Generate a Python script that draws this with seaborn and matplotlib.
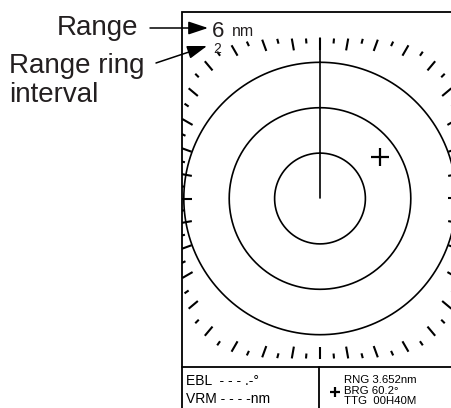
import numpy as np
import pandas as pd
import seaborn as sns
import matplotlib.pyplot as plt

# radar display settings
range_nm = 6
ring_interval = 2
ring_radii = [2, 4, 6]            # nm
tick_step = 5                     # degrees between bearing marks
target_drawn = (3.2, 55)          # (range nm, bearing deg) as seen on screen
readout_left = ["EBL  - - - .-\u00b0", "VRM - - - -nm"]
readout_right = ["RNG 3.652nm", "BRG 60.2\u00b0", "TTG  00H40M"]

W, H = 452, 408
S = 22.7                          # pixels per nm
CX, CY = 320, 198.5               # screen centre in pixels (top origin)
INK = "#231f20"

sns.set_style("white")
plt.rcParams["font.family"] = ["Liberation Sans", "DejaVu Sans"]

fig = plt.figure(figsize=(W / 100, H / 100), dpi=100)
ax = fig.add_axes([0, 0, 1, 1])
ax.set_xlim(-CX / S, (W - CX) / S)
ax.set_ylim(-(H - CY) / S, CY / S)
ax.axis("off")


def d(x, y):
    # pixel (top origin) -> data
    return (x - CX) / S, (CY - y) / S


def f(x, y):
    # pixel (top origin) -> figure fraction
    return x / W, 1 - y / H


# display frame
fx0, fy0 = d(182, 12)
fx1, fy1 = d(456, 412)
frame = plt.Rectangle((fx0, fy1), fx1 - fx0, fy0 - fy1, fill=False,
                      lw=1.3, ec="black", zorder=3)
ax.add_patch(frame)
ax.plot(*zip(d(182, 367), d(456, 367)), color="black", lw=1.3)
ax.plot(*zip(d(319, 367), d(319, 412)), color="black", lw=1.3)

# range rings
t = np.linspace(0, 2 * np.pi, 361)
rings = pd.DataFrame({
    "x": np.concatenate([r * np.sin(t) for r in ring_radii]),
    "y": np.concatenate([r * np.cos(t) for r in ring_radii]),
    "ring": np.repeat(ring_radii, len(t)),
})
sns.lineplot(data=rings, x="x", y="y", units="ring", estimator=None,
             sort=False, color="black", lw=1.2, legend=False, ax=ax)

# bearing scale on a rounded-rectangle edge
a, b, n = 140 / S, 160 / S, 4
bearings = np.arange(0, 360, tick_step)
for brg in bearings:
    th = np.radians(brg)
    dx, dy = np.sin(th), np.cos(th)
    r = (abs(dx / a) ** n + abs(dy / b) ** n) ** (-1 / n)
    L = (12 if brg % 10 == 0 else 5) / S
    ln, = ax.plot([r * dx, (r - L) * dx], [r * dy, (r - L) * dy],
                  color="black", lw=1.5, solid_capstyle="butt")
    ln.set_clip_path(frame)

# heading line
head = pd.DataFrame({"x": [0, 0], "y": [0, b], "u": [0, 0]})
sns.lineplot(data=head, x="x", y="y", units="u", estimator=None, sort=False,
             color="black", lw=1.2, legend=False, ax=ax)

# target
tr, tb = target_drawn
ax.plot(tr * np.sin(np.radians(tb)), tr * np.cos(np.radians(tb)),
        marker="+", ms=13, mew=1.6, color="black")

# range / ring interval
fig.text(*f(212, 37), str(range_nm), fontsize=16, color=INK, va="baseline")
fig.text(*f(232, 36), "nm", fontsize=11.5, color=INK, va="baseline")
fig.text(*f(213, 53), str(ring_interval), fontsize=10, color=INK, va="baseline")

fig.text(*f(138, 35), "Range", fontsize=20, color=INK, ha="right", va="baseline")
fig.text(*f(9, 73), "Range ring", fontsize=20, color=INK, va="baseline")
fig.text(*f(9, 102), "interval", fontsize=20, color=INK, va="baseline")

arrow = dict(arrowstyle="-|>,head_length=1.2,head_width=0.4", color="black",
             lw=1.1, shrinkA=0, shrinkB=0)
ax.annotate("", xy=d(208, 28), xytext=d(150, 28), arrowprops=arrow)
ax.annotate("", xy=d(207, 46), xytext=d(156, 63), arrowprops=arrow)

# readouts
for txt, yb in zip(readout_left, [385, 403]):
    fig.text(*f(186, yb), txt, fontsize=10, color="black", va="baseline")
for txt, yb in zip(readout_right, [383, 393.5, 404]):
    fig.text(*f(344, yb), txt, fontsize=8.2, color="black", va="baseline")
ax.plot(*d(335.5, 392), marker="+", ms=7.5, mew=1.6, color="black")

fig.savefig("out.png", dpi=100)
